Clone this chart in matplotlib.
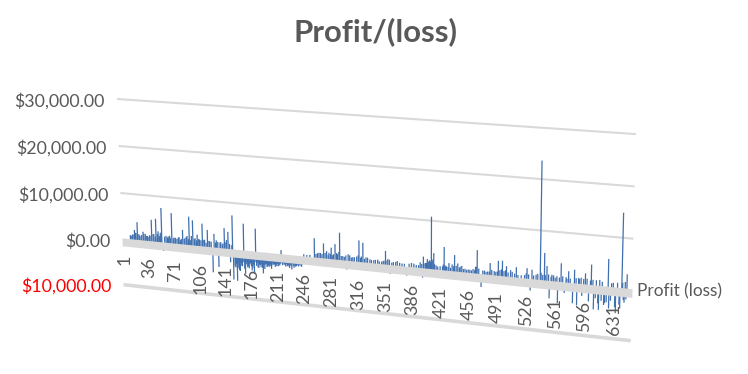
import numpy as np
import matplotlib
matplotlib.use("Agg")
import matplotlib.pyplot as plt
from matplotlib.transforms import Transform

# valeurs (numero de ligne, profit) : les pics
categories = [
    12, 15, 18, 20, 22, 25, 28, 30, 33, 36, 39, 42, 45, 48, 51, 54, 56, 58, 60, 65,
    68, 70, 73, 77, 80, 83, 85, 88, 91, 94, 97, 99, 102, 105, 108, 112, 115, 119, 122, 126,
    128, 131, 134, 137, 140, 142, 145, 147, 150, 153, 154, 157, 159, 162, 165, 168, 170, 173, 176, 179,
    182, 184, 187, 190, 194, 197, 200, 205, 209, 214, 218, 222, 226, 232, 238, 245, 248, 252, 256, 262,
    266, 270, 274, 278, 281, 284, 287, 289, 292, 295, 299, 304, 306, 310, 314, 320, 323, 325, 329, 334,
    339, 344, 349, 352, 354, 357, 360, 364, 369, 375, 381, 387, 393, 398, 401, 402, 405, 407, 409, 412,
    415, 418, 423, 428, 431, 434, 438, 441, 445, 448, 452, 456, 460, 464, 467, 469, 474, 478, 482, 485,
    490, 495, 500, 505, 510, 517, 523, 530, 534, 536, 541, 546, 549, 551, 554, 557, 560, 564, 567, 571,
    575, 578, 580, 585, 587, 590, 593, 596, 600, 604, 607, 610, 613, 616, 617, 620, 623, 627, 628, 631,
    636, 638, 641, 643, 645, 647, 649,
]
profit = [
    1200, 1400, 2400, 1800, 4100, 1300, 1500, 2200, 1800, 1400, 1600, 4900, 1900, 5200, 2600, 2200, 7600, -1500, 1600, 1700,
    1400, 6700, 1600, 1400, 1800, 1500, 3400, 1700, 2200, 6300, 2300, 5600, 1900, 2700, 1700, 5100, 1800, 3900, 1600, -5100,
    3200, 1900, -3800, 1600, 1400, 4600, 2200, 3900, -2500, 7400, -6200, -3500, -6400, -4000, -3000, 5900, -4700, -3200, -2500, -3800,
    -4500, 5100, -3000, -2400, -4200, -2200, -2600, -3000, -2000, -2300, 1200, -1800, -2000, -2700, -1900, -1900, 800, 700, 800, 4300,
    1300, 1400, 3400, 1900, 1600, 2700, 1400, 3500, 1500, 5900, 1200, -1500, 1700, 1100, 1200, 4700, 1500, 4300, 1400, 1100,
    1000, 1200, 900, 1100, 3100, 1500, -1500, 1000, 1300, 900, -1500, 1200, 900, 1500, -1600, 2700, 1500, 2300, 1900, 10800,
    3600, 1200, 1100, 5000, 1200, 1900, 1700, 3600, 2000, 1400, 1000, 900, 1000, 1200, 1700, 5000, -2300, 1100, 1000, 2700,
    1200, 3300, 3400, 2400, 1700, 2400, 900, 2400, -2000, 2200, 1300, 23600, 1400, 5700, 3200,
    -3200, 1600, 1100, -4000, 4000,
    -1800, 1100, 2600, -3700, 3000, -4000, 1300, -2000, 2500, -3000, 4300, -4500, 1400, -4500, 1500, 1200, -3000, 5700, -4000, 1100,
    -4800, 1300, -3800, 14800, -2000, 1600, 3100,
]
# le fond dense de petites barres entre les pics
categories_fond = [
    14, 17, 19, 24, 27, 31, 35, 38, 41, 44, 47, 50, 53, 55, 62, 64, 67, 72, 75, 79,
    82, 87, 90, 93, 96, 101, 104, 107, 110, 114, 117, 121, 124, 130, 133, 136, 139, 144, 149, 152,
    156, 158, 160, 161, 163, 164, 166, 167, 169, 171, 172, 174, 175, 177, 178, 180, 181, 183, 185, 186,
    188, 189, 191, 192, 193, 195, 196, 198, 199, 201, 202, 203, 204, 206, 207, 208, 210, 211, 212, 213,
    215, 216, 217, 219, 220, 221, 223, 224, 225, 227, 228, 229, 230, 231, 233, 234, 235, 236, 237, 239,
    240, 241, 242, 243, 244, 246, 264, 268, 272, 276, 280, 283, 286, 291, 294, 297, 301, 303, 308, 312,
    317, 319, 322, 327, 331, 336, 341, 346, 351, 356, 359, 362, 367, 372, 378, 384, 390, 396, 400, 404,
    406, 408, 410, 411, 413, 414, 416, 420, 426, 427, 429, 430, 433, 436, 440, 443, 447, 450, 454, 458,
    462, 466, 468, 471, 476, 480, 484, 487, 492, 494, 497, 499, 502, 504, 507, 512, 515, 519, 527, 529,
    532, 538, 543, 547, 552, 556, 559, 562, 566, 569, 573, 577, 582, 589, 592, 595, 598, 602, 606, 609,
    612, 615, 619, 622, 625, 630, 633, 635, 640, 644, 646, 648,
]
profit_fond = [
    1100, 1400, 1800, 1600, 1200, 1700, 1400, 1200, 1500, 1900, 1400, 2000, 1600, 2400, 1800, 1500, 1900, 1400, 1600, 1700,
    1200, 1500, 2000, 1600, 1400, 1700, 1500, 1800, 1600, 1700, 1200, 1600, 1500, 1400, 1600, 1500, 1200, 1700, 1400, 1200,
    -3300, -2800, -2500, -3600, -4200, -2400, -3100, -2200, -3600, -2600, -2100, -3000, -3400, -2200, -2900, -3200, -2500, -1900, -2700, -2000,
    -3100, -2400, -2900, -2200, -3000, -2400, -3200, -2100, -2700, -2300, -2600, -2000, -2400, -1800, -2200, -1900, -2500, -2000, -2300, -1800,
    -1900, -2100, -1700, -1600, -2000, -1500, -1800, -2200, -1600, -2100, -1800, -2400, -1700, -2000, -1500, -1900, -2300, -1600, -2000, -1700,
    -1500, -1900, -1400, -1700, -1500, -1400, 1100, 1400, 1200, 1500, 1100, 1400, 1200, 1700, 2000, 1200, 1100, 1400, 1500, 1200,
    1400, 1700, 1200, 1100, 1400, 1000, 1100, 900, 1000, 1200, 1400, 900, 1100, 1000, 900, 1000, 1100, 900, 1200, 1400,
    1500, 1700, 2100, 1800, 2300, 2000, 1400, 1000, 1100, 1500, 1400, 1200, 1100, 1000, 1400, 1500, 1200, 1600, 1100, 1000,
    900, 1000, 1700, 1400, 1100, 900, 1000, 1400, 1100, 1200, 1500, 1700, 1400, 1600, 1200, 1400, 1100, 900, 1000, 1400,
    1200, 1100, 1500, 1800, 1400, 1600, 1200, 1500, 1400, 1200, 1500, 1400, 1200, 1400, 1500, 1600, 1400, 1500, 1200, 1400,
    -2200, -3200, -2600, -3400, -2800, -2400, 1200, -3600, -3000, 1400, -2500, -1800,
]
tick_labels = list(range(1, 632, 35))
grid_values = [30000, 20000, 10000, -10000]
value_labels = ["$30,000.00", "$20,000.00", "$10,000.00", "$0.00", "$10,000.00"]
label_values = [30000, 20000, 10000, 0, -10000]

NB_LIGNES = 655
GRIS = "#595959"
plt.rcParams["font.family"] = ["Lato", "DejaVu Sans"]


class Perspective(Transform):
    """(numero de ligne, valeur) vers pixels, vue 3D inclinee"""
    input_dims = 2
    output_dims = 2

    def transform_non_affine(self, values):
        values = np.asarray(values, dtype=float)
        t = values[:, 0] / NB_LIGNES
        v = values[:, 1]
        v = np.where(v < 0, v * 0.95, v)
        s = t / (1.1 - 0.1 * t)
        x_g = 122 - v * 5 / 30000
        x_d = 632 + v * 4 / 30000
        y_g = 240 - 0.0047 * v
        y_d = 291 - 0.00523 * v
        return np.column_stack([x_g + (x_d - x_g) * s, y_g + (y_d - y_g) * s])


fig = plt.figure(figsize=(7.48, 3.74), dpi=100)
ax = fig.add_axes([0, 0, 1, 1])
ax.set_xlim(0, 748)
ax.set_ylim(374, 0)
ax.axis("off")
tr = Perspective() + ax.transData

# grille
for val in grid_values:
    lw = 2.6 if val < 0 else 1.5
    ax.plot([0, NB_LIGNES], [val, val], color="#d9d9d9", lw=lw, transform=tr, zorder=1,
            solid_capstyle="butt")

# barres
ax.vlines(categories + categories_fond, 0, profit + profit_fond, color="#3f6fae", lw=0.9,
          transform=tr, zorder=2)

# plancher de l'axe
ax.fill_between([0, NB_LIGNES], [-1300, -1300], [450, 450], color="#d9d9d9", lw=0, transform=tr, zorder=3)

ax.text(376, 32, "Profit/(loss)", ha="center", va="center", fontsize=22.4, fontweight="bold", color=GRIS)

for val, lab in zip(label_values, value_labels):
    px, py = Perspective().transform(np.array([[0.0, val]]))[0]
    ax.annotate(lab, (px, py), xytext=(-12, -2), textcoords="offset pixels", ha="right", va="center",
                fontsize=12.8, color="red" if val < 0 else GRIS, zorder=4)

for i in tick_labels:
    ax.annotate(str(i), (i, 0), xycoords=tr, xytext=(2, -15), textcoords="offset pixels", rotation=90,
                ha="center", va="top", fontsize=12.8, color=GRIS, zorder=4)

px, py = Perspective().transform(np.array([[NB_LIGNES, 0.0]]))[0]
ax.annotate("Profit (loss)", (px, py), xytext=(5, 0), textcoords="offset pixels", ha="left", va="center",
            fontsize=12.4, color=GRIS, zorder=4)

fig.savefig("out.png", dpi=100)
